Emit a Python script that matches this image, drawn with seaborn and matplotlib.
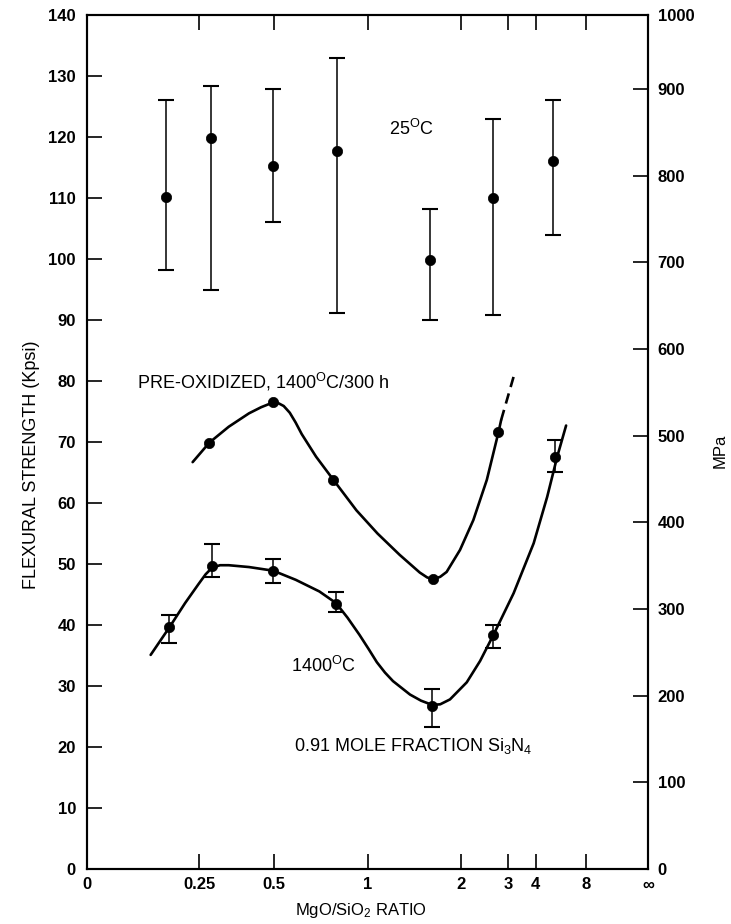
import numpy as np
import pandas as pd
import matplotlib
matplotlib.use("Agg")
import matplotlib.pyplot as plt
import seaborn as sns

# 25 C strength, Kpsi, with scatter band
ratio_25 = [0.164, 0.284, 0.497, 0.802, 1.571, 2.63, 4.92]
kpsi_25 = [110.1, 119.9, 115.2, 117.7, 99.9, 110.0, 116.0]
hi_25 = [126.0, 128.4, 127.8, 133.0, 108.2, 123.0, 126.1]
lo_25 = [98.2, 95.0, 106.1, 91.1, 90.0, 90.8, 104.0]

# 1400 C strength
ratio_1400 = [0.172, 0.287, 0.497, 0.798, 1.60, 2.63, 5.02]
kpsi_1400 = [39.6, 49.7, 48.9, 43.5, 26.8, 38.4, 67.6]
hi_1400 = [41.6, 53.3, 50.9, 45.4, 29.5, 40.0, 70.3]
lo_1400 = [37.1, 47.8, 46.9, 42.1, 23.3, 36.3, 65.1]

# pre-oxidized 1400 C / 300 h
ratio_preox = [0.279, 0.497, 0.783, 1.611, 2.752]
kpsi_preox = [69.9, 76.5, 63.8, 47.5, 71.6]

# hand drawn curves
curve_preox_ratio = [0.232, 0.279, 0.338, 0.406, 0.450, 0.497, 0.516, 0.540, 0.566,
                     0.592, 0.620, 0.690, 0.783, 0.924, 1.074, 1.259, 1.458, 1.540,
                     1.611, 1.700, 1.786, 1.984, 2.212, 2.481, 2.752, 2.82]
curve_preox_kpsi = [66.7, 69.9, 72.5, 74.7, 75.7, 76.5, 76.4, 75.9, 74.8,
                    73.2, 71.3, 67.6, 63.8, 58.8, 55.0, 51.5, 48.6, 47.8,
                    47.5, 47.9, 48.7, 52.3, 57.2, 63.8, 71.6, 73.6]
dash_preox_ratio = [2.82, 3.174]
dash_preox_kpsi = [73.6, 80.7]

curve_1400_ratio = [0.128, 0.172, 0.212, 0.248, 0.268, 0.287, 0.311, 0.338, 0.406,
                    0.497, 0.593, 0.707, 0.798, 0.867, 0.944, 1.007, 1.069, 1.133,
                    1.200, 1.357, 1.471, 1.599, 1.700, 1.833, 2.095, 2.341, 2.631,
                    3.174, 3.907, 4.564, 5.18, 5.85]
curve_1400_kpsi = [35.1, 39.6, 43.6, 46.7, 48.3, 49.4, 49.8, 49.8, 49.5,
                   48.9, 47.4, 45.5, 43.6, 41.2, 38.4, 36.1, 33.9, 32.2,
                   30.8, 28.6, 27.6, 26.9, 27.0, 27.8, 30.6, 34.1, 38.4,
                   45.2, 53.4, 61.0, 67.6, 72.7]

tick_ratios = [0, 0.25, 0.5, 1, 2, 3, 4, 8, np.inf]
tick_labels = ["0", "0.25", "0.5", "1", "2", "3", "4", "8", "\u221e"]
kpsi_ticks = list(range(0, 141, 10))
mpa_ticks = [0, 100, 200, 300, 400, 500, 600, 700, 800, 900]
mpa_per_kpsi = 7.04  # as drawn on the right scale


def to_pos(r):
    # the x axis is spaced as MgO/(MgO+SiO2)
    r = np.asarray(r, dtype=float)
    with np.errstate(invalid="ignore"):
        return np.where(np.isinf(r), 1.0, r / (1.0 + r))


sns.set_theme(style="ticks")
plt.rcParams["font.family"] = ["Liberation Sans", "DejaVu Sans"]
plt.rcParams["mathtext.fontset"] = "custom"
plt.rcParams["mathtext.rm"] = "Liberation Sans"
plt.rcParams["mathtext.it"] = "Liberation Sans:italic"
plt.rcParams["text.color"] = "black"
plt.rcParams["axes.labelcolor"] = "black"
plt.rcParams["xtick.color"] = "black"
plt.rcParams["ytick.color"] = "black"

fig = plt.figure(figsize=(7.31, 9.24), dpi=100)
L, R, T, B = 87, 648, 15, 869
ax = fig.add_axes([L / 731, 1 - B / 924, (R - L) / 731, (B - T) / 924])

c25 = pd.DataFrame({"pos": to_pos(ratio_25), "kpsi": kpsi_25})
c1400 = pd.DataFrame({"pos": to_pos(ratio_1400), "kpsi": kpsi_1400})
cpre = pd.DataFrame({"pos": to_pos(ratio_preox), "kpsi": kpsi_preox})
line_pre = pd.DataFrame({"pos": to_pos(curve_preox_ratio), "kpsi": curve_preox_kpsi})
line_dash = pd.DataFrame({"pos": to_pos(dash_preox_ratio), "kpsi": dash_preox_kpsi})
line_1400 = pd.DataFrame({"pos": to_pos(curve_1400_ratio), "kpsi": curve_1400_kpsi})

sns.lineplot(data=line_pre, x="pos", y="kpsi", sort=False, estimator=None,
             color="black", lw=1.9, ax=ax)
sns.lineplot(data=line_dash, x="pos", y="kpsi", sort=False, estimator=None,
             color="black", lw=1.9, linestyle=(0, (4, 2.5)), ax=ax)
sns.lineplot(data=line_1400, x="pos", y="kpsi", sort=False, estimator=None,
             color="black", lw=1.9, ax=ax)

for df, hi, lo in [(c25, hi_25, lo_25), (c1400, hi_1400, lo_1400)]:
    k = df["kpsi"].to_numpy()
    ax.errorbar(df["pos"], k, yerr=[k - np.array(lo), np.array(hi) - k],
                fmt="none", ecolor="black", elinewidth=1.1, capsize=5.5, capthick=1.5)

for df in [c25, c1400, cpre]:
    sns.scatterplot(data=df, x="pos", y="kpsi", color="black", s=55,
                    edgecolor="black", linewidth=0.5, zorder=5, ax=ax)

ax.text(to_pos(0.0985)[()], 79.8, "PRE-OXIDIZED, 1400$^{\\mathrm{O}}$C/300 h",
        fontsize=13, va="center", ha="left")
ax.text(to_pos(1.163)[()], 121.3, "25$^{\\mathrm{O}}$C", fontsize=13, va="center", ha="left")
ax.text(to_pos(0.572)[()], 33.3, "1400$^{\\mathrm{O}}$C", fontsize=13, va="center", ha="left")
ax.text(to_pos(0.585)[()], 20.2, "0.91 MOLE FRACTION Si$_3$N$_4$", fontsize=13,
        va="center", ha="left")

ax.set_xlim(0, 1)
ax.set_ylim(0, 140)
ax.set_xticks(to_pos(tick_ratios))
ax.set_xticklabels(tick_labels, fontweight="bold")
ax.set_yticks(kpsi_ticks)
ax.set_yticklabels([str(v) for v in kpsi_ticks], fontweight="bold")
ax.tick_params(axis="both", direction="in", length=11, width=1.2, labelsize=12)
ax.tick_params(axis="x", top=True, pad=6)
ax.tick_params(axis="y", pad=8)
for s in ax.spines.values():
    s.set_linewidth(1.5)
    s.set_color("black")

ax.set_xlabel("MgO/SiO$_2$ RATIO", fontsize=12)
ax.xaxis.set_label_coords(0.488, -0.038)
ax.set_ylabel("FLEXURAL STRENGTH (Kpsi)", fontsize=13)
ax.yaxis.set_label_coords(-0.084, 0.473)

ax2 = ax.twinx()
ax2.set_ylim(0, 140 * mpa_per_kpsi)
ax2.set_yticks(mpa_ticks + [140 * mpa_per_kpsi])
ax2.set_yticklabels([str(v) for v in mpa_ticks] + ["1000"], fontweight="bold")
ax2.tick_params(axis="y", direction="in", length=11, width=1.2, labelsize=12, pad=7)
ax2.set_ylabel("MPa", fontsize=12)
ax2.yaxis.set_label_coords(1.116, 0.49)
for s in ax2.spines.values():
    s.set_linewidth(1.5)
    s.set_color("black")

fig.savefig("out.png", dpi=100)
